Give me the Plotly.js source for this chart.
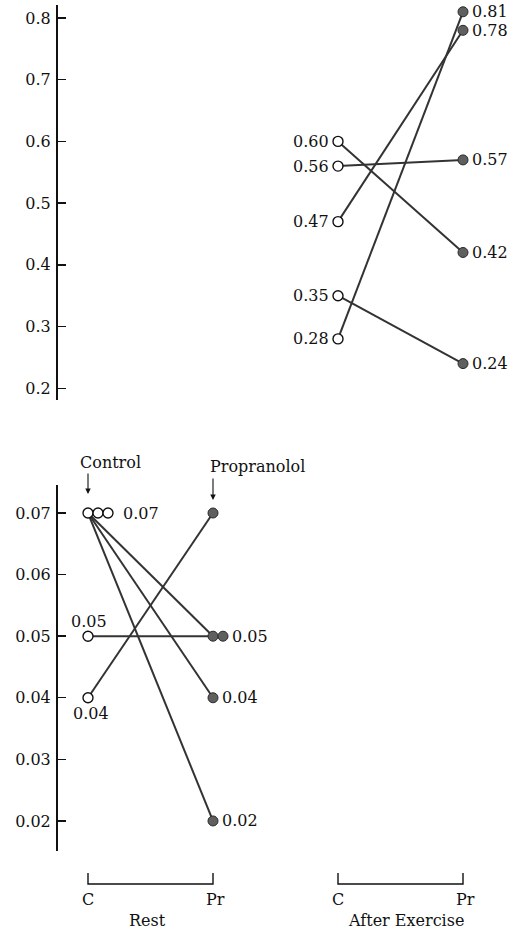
<!DOCTYPE html>
<html>
<head>
<meta charset="utf-8">
<script src="https://cdn.plot.ly/plotly-3.0.1.min.js"></script>
<style>html,body{margin:0;padding:0;background:#fff}</style>
</head>
<body>
<div id="chart" style="width:518px;height:929px"></div>
<script>
// Individual subjects: control (C) vs propranolol (Pr)
const restControl = [0.07, 0.07, 0.07, 0.05, 0.04];
const restPropranolol = [0.05, 0.04, 0.02, 0.05, 0.07];
const exerciseControl = [0.60, 0.56, 0.47, 0.35, 0.28];
const exercisePropranolol = [0.42, 0.57, 0.78, 0.24, 0.81];

const conditionLabels = ['C', 'Pr', 'C', 'Pr'];
const groupLabels = ['Rest', 'After Exercise'];
const exerciseTicks = [0.2, 0.3, 0.4, 0.5, 0.6, 0.7, 0.8];
const restTicks = [0.02, 0.03, 0.04, 0.05, 0.06, 0.07];

// ---- layout helpers ----
const W = 518, H = 929;
const py = p => 1 - p / H;              // pixel row -> paper y
const conditionX = [0, 1, 2, 3];        // Rest C, Rest Pr, Exercise C, Exercise Pr
const STACK = 0.08;                     // sideways step for tied values
const INK = '#111111';
const LINE = '#333333';
const FONT = {size: 16, color: INK};

// tied values are drawn side by side instead of on top of each other
function stacked(values, base) {
  const seen = {};
  return values.map(v => {
    const k = seen[v] || 0;
    seen[v] = k + 1;
    return base + k * STACK;
  });
}

const traces = [];
function addPanel(ctrl, prop, xC, xP, yaxis) {
  ctrl.forEach((c, i) => {
    traces.push({
      x: [xC, xP], y: [c, prop[i]], yaxis: yaxis,
      mode: 'lines', line: {color: LINE, width: 2},
      hoverinfo: 'skip', showlegend: false
    });
  });
  traces.push({
    x: stacked(ctrl, xC), y: ctrl, yaxis: yaxis, mode: 'markers',
    marker: {symbol: 'circle', size: 10, color: '#ffffff', line: {color: INK, width: 1.4}},
    showlegend: false
  });
  traces.push({
    x: stacked(prop, xP), y: prop, yaxis: yaxis, mode: 'markers',
    marker: {symbol: 'circle', size: 10, color: '#5f5f5f', line: {color: '#2a2a2a', width: 1}},
    showlegend: false
  });
}
addPanel(exerciseControl, exercisePropranolol, conditionX[2], conditionX[3], 'y');
addPanel(restControl, restPropranolol, conditionX[0], conditionX[1], 'y2');

// ---- value labels ----
const annotations = [];
function uniq(a) { return [...new Set(a)]; }
function valueLabel(v, x, yref, opts) {
  annotations.push(Object.assign({
    x: x, y: v, xref: 'x', yref: yref, text: v.toFixed(2),
    showarrow: false, yanchor: 'middle', font: FONT
  }, opts));
}
uniq(exerciseControl).forEach(v =>
  valueLabel(v, conditionX[2], 'y', {xanchor: 'right', xshift: -7}));
uniq(exercisePropranolol).forEach(v =>
  valueLabel(v, conditionX[3], 'y', {xanchor: 'left', xshift: 7}));

// rest control: tied group labelled to the right, singles above / below
const restCtrlPlacement = {'0.07': 'right', '0.05': 'above', '0.04': 'below'};
const restCtrlX = stacked(restControl, conditionX[0]);
uniq(restControl).forEach(v => {
  const lastX = Math.max(...restCtrlX.filter((_, i) => restControl[i] === v));
  const where = restCtrlPlacement[v.toFixed(2)];
  if (where === 'right') valueLabel(v, lastX, 'y2', {xanchor: 'left', xshift: 13});
  if (where === 'above') valueLabel(v, lastX, 'y2', {xanchor: 'center', xshift: 1, yshift: 15});
  if (where === 'below') valueLabel(v, lastX, 'y2', {xanchor: 'center', xshift: 3, yshift: -16});
});
// rest propranolol: the top point carries the "Propranolol" arrow instead
const restPrX = stacked(restPropranolol, conditionX[1]);
const restPrTop = Math.max(...restPropranolol);
uniq(restPropranolol).forEach(v => {
  if (v === restPrTop) return;
  const lastX = Math.max(...restPrX.filter((_, i) => restPropranolol[i] === v));
  valueLabel(v, lastX, 'y2', {xanchor: 'left', xshift: 7});
});

// ---- Control / Propranolol headers with arrows ----
annotations.push({x: conditionX[0], y: py(462), xref: 'x', yref: 'paper', text: 'Control',
  showarrow: false, xanchor: 'left', xshift: -10, yanchor: 'middle', font: FONT});
annotations.push({x: conditionX[1], y: py(466), xref: 'x', yref: 'paper', text: 'Propranolol',
  showarrow: false, xanchor: 'left', xshift: -5, yanchor: 'middle', font: FONT});
annotations.push({x: conditionX[0], y: py(494), xref: 'x', yref: 'paper', text: '',
  showarrow: true, ax: 0, ay: -22, arrowhead: 2, arrowsize: 1, arrowwidth: 1.1, arrowcolor: INK});
annotations.push({x: conditionX[1], y: py(500), xref: 'x', yref: 'paper', text: '',
  showarrow: true, ax: 0, ay: -23, arrowhead: 2, arrowsize: 1, arrowwidth: 1.1, arrowcolor: INK});

// ---- bottom brackets: C / Pr under each condition pair ----
const shapes = [];
const bracketY = py(884), bracketTop = py(873);
[[0, 1], [2, 3]].forEach(([a, b], g) => {
  const xa = conditionX[a], xb = conditionX[b];
  shapes.push({type: 'path', xref: 'x', yref: 'paper',
    path: `M ${xa} ${bracketTop} L ${xa} ${bracketY} L ${xb} ${bracketY} L ${xb} ${bracketTop}`,
    line: {color: INK, width: 1.4}});
  annotations.push({x: xa, y: py(899), xref: 'x', yref: 'paper', text: conditionLabels[a],
    showarrow: false, xanchor: 'center', yanchor: 'middle', font: FONT});
  annotations.push({x: xb, y: py(899), xref: 'x', yref: 'paper', text: conditionLabels[b],
    showarrow: false, xanchor: 'center', xshift: 2, yanchor: 'middle', font: FONT});
  annotations.push({x: (xa + xb) / 2, y: py(920), xref: 'x', yref: 'paper', text: groupLabels[g],
    showarrow: false, xanchor: 'center', xshift: g ? 5 : -3, yanchor: 'middle', font: FONT});
});

const axisLeft = 57.5, pxPerUnit = 125, originPx = 88;
const yCommon = {
  anchor: 'x', showline: true, linecolor: INK, linewidth: 1.5,
  ticks: 'inside', ticklen: 8, tickwidth: 1.4, tickcolor: INK,
  showgrid: false, zeroline: false, ticklabelstandoff: 2,
  tickfont: FONT, fixedrange: true
};

const layout = {
  width: W, height: H,
  margin: {l: 0, r: 0, t: 0, b: 0},
  paper_bgcolor: '#ffffff', plot_bgcolor: 'rgba(0,0,0,0)',
  font: {family: '"DejaVu Serif", serif', size: 16, color: INK},
  showlegend: false,
  xaxis: {
    domain: [axisLeft / W, 1],
    range: [(axisLeft - originPx) / pxPerUnit, (W - originPx) / pxPerUnit],
    visible: false, fixedrange: true
  },
  yaxis: Object.assign({}, yCommon, {
    domain: [py(400), py(5)], range: [0.181, 0.821],
    tickvals: exerciseTicks, ticktext: exerciseTicks.map(v => v.toFixed(1))
  }),
  yaxis2: Object.assign({}, yCommon, {
    domain: [py(851), py(485)], range: [0.01512, 0.07455],
    tickvals: restTicks, ticktext: restTicks.map(v => v.toFixed(2))
  }),
  annotations: annotations,
  shapes: shapes
};

Plotly.newPlot('chart', traces, layout, {staticPlot: true, displayModeBar: false});
</script>
</body>
</html>
